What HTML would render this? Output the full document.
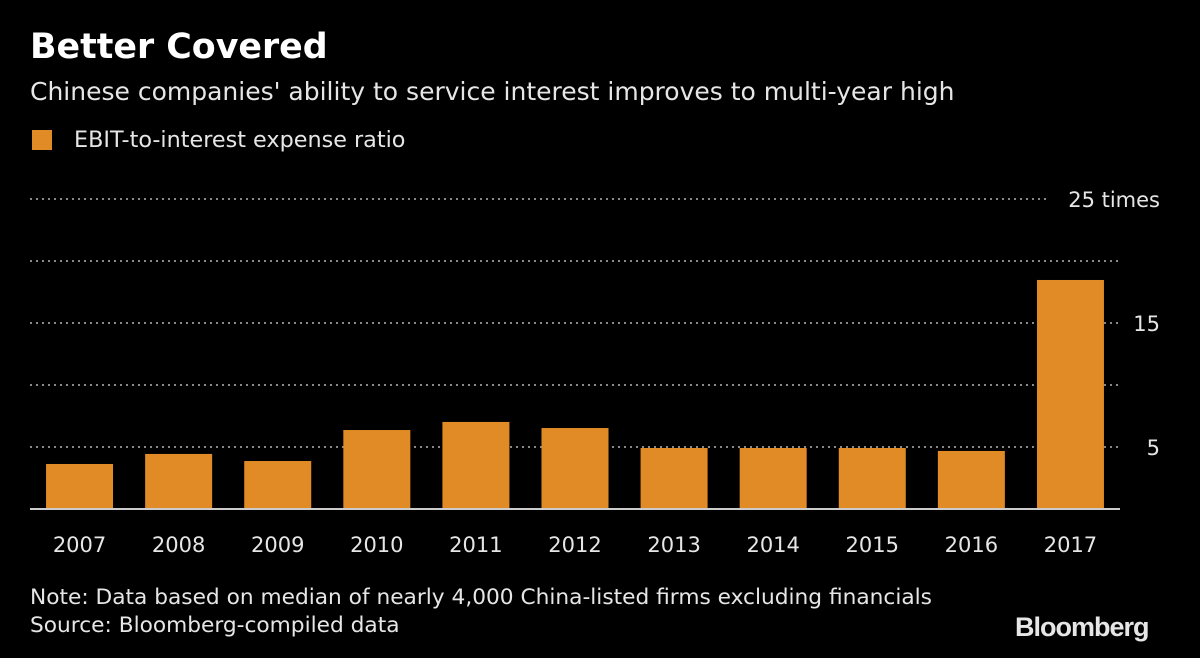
<!DOCTYPE html>
<html><head><meta charset="utf-8"><style>
body{margin:0;background:#000;width:1200px;height:658px;overflow:hidden;font-family:"DejaVu Sans","Liberation Sans",sans-serif;}
.t{position:absolute;white-space:nowrap;}
</style></head><body>
<div style="position:relative;width:1200px;height:658px">
<div class="t" style="left:30px;top:27px;font-size:34.8px;font-weight:bold;color:#fff">Better Covered</div>
<div class="t" style="left:30px;top:77px;font-size:25px;color:#e6e6e6">Chinese companies' ability to service interest improves to multi-year high</div>
<div style="position:absolute;left:32px;top:130px;width:20px;height:20px;background:#e08b25"></div>
<div class="t" style="left:74px;top:127px;font-size:22.3px;color:#e6e6e6">EBIT-to-interest expense ratio</div>
<svg id="chart" width="1200" height="658" style="position:absolute;left:0;top:0"></svg>
<div class="t" style="left:30px;top:585px;font-size:21.7px;color:#e6e6e6">Note: Data based on median of nearly 4,000 China-listed firms excluding financials</div>
<div class="t" style="left:30px;top:613px;font-size:21.7px;color:#e6e6e6">Source: Bloomberg-compiled data</div>
<div class="t" style="left:1015px;top:612px;font-size:27px;font-weight:bold;color:#e6e6e6;letter-spacing:-1px;font-family:'Liberation Sans',sans-serif">Bloomberg</div>
</div>
<script>
const categories=["2007","2008","2009","2010","2011","2012","2013","2014","2015","2016","2017"];
const values=[3.63,4.44,3.87,6.37,7.02,6.53,4.92,4.92,4.92,4.68,18.47];
const gridValues=[5,10,15,20,25];
const tickLabels=["5","","15","","25 times"];
const svg=document.getElementById('chart');
const NS="http://www.w3.org/2000/svg";
const x0=30,x1=1120,y0=509,pxPerUnit=12.4;
const band=(x1-x0)/categories.length, bw=67;
const y=v=>y0-v*pxPerUnit;
const xc=i=>x0+band*(i+0.5);
function mk(t,a){const e=document.createElementNS(NS,t);for(const k in a)e.setAttribute(k,a[k]);svg.appendChild(e);return e;}
gridValues.forEach((g,i)=>{
 const lbl=tickLabels[i];
 const ln=mk('line',{x1:x0,x2:lbl.length>3?1050:1120,y1:y(g),y2:y(g),stroke:'#888','stroke-width':2,'stroke-dasharray':'2,4'});
 
 
 if(lbl){const t=mk('text',{x:1160,y:y(g)+8,'text-anchor':'end','font-size':21,fill:'#e6e6e6','font-family':'DejaVu Sans, sans-serif'});t.textContent=lbl;
 
 }
});
values.forEach((v,i)=>{
 const r=mk('rect',{x:xc(i)-bw/2,y:y(v),width:bw,height:v*pxPerUnit,fill:'#e08b25'});
 
 
 const t=mk('text',{x:xc(i),y:552,'text-anchor':'middle','font-size':21,fill:'#e6e6e6','font-family':'DejaVu Sans, sans-serif'});t.textContent=categories[i];
 
 
});
const ax=mk('line',{x1:x0,x2:x1,y1:y0,y2:y0,stroke:'#ccc','stroke-width':2});


</script>
</body></html>
